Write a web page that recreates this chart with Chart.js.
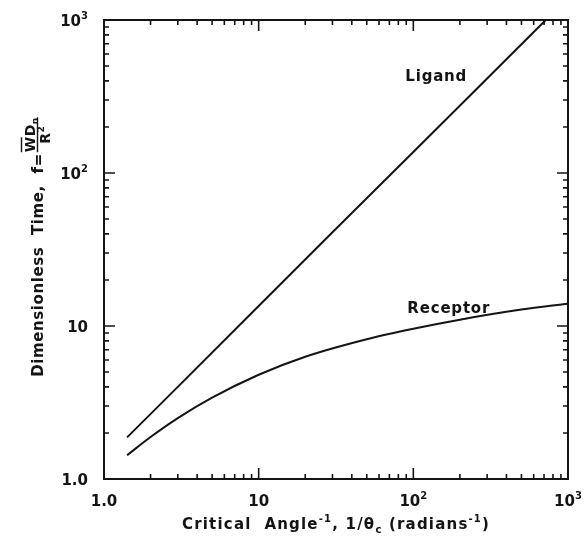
<!DOCTYPE html>
<html>
<head>
<meta charset="utf-8">
<script src="https://cdn.jsdelivr.net/npm/chart.js@4/dist/chart.umd.min.js"></script>
<style>
  body { margin: 0; background: #fff; }
  #wrap { width: 586px; height: 544px; }
</style>
</head>
<body>
<div id="wrap"><canvas id="plot" width="586" height="544"></canvas></div>
<script>
const FONT = '"DejaVu Sans", sans-serif'
const INK = '#141414'

// axis decades and their labels (base, superscript)
const decades = [1, 10, 100, 1000]
const tickLabels = [['1.0', ''], ['10', ''], ['10', '2'], ['10', '3']]

// curves
const ligandX = [1.41, 3, 10, 30, 100, 300, 718]
const ligandY = [1.87, 4.0, 13.5, 41, 137, 415, 1000]
const receptorX = [1.41, 2, 3, 5, 10, 20, 50, 100, 200, 500, 1000]
const receptorY = [1.43, 1.88, 2.5, 3.4, 4.8, 6.3, 8.2, 9.6, 11.0, 12.8, 14.0]

// curve annotations (data coords of text baseline start)
const noteText = ['Ligand', 'Receptor']
const noteX = [88.8, 91.5]
const noteY = [399, 12.2]

const toPoints = (xs, ys) => xs.map((x, i) => ({ x, y: ys[i] }))

// draws text runs with superscripts / subscripts, returns width
const drawRich = (ctx, parts, x, y, fs, align, spacing, dryRun) => {
  const runs = parts.filter(p => p[0] !== '').map(([t, k]) => ({ t, k, s: k === 'n' ? fs : Math.round(fs * 0.65) }))
  ctx.letterSpacing = spacing + 'px'
  let w = 0
  runs.forEach(r => {
    ctx.font = `bold ${r.s}px ${FONT}`
    r.w = ctx.measureText(r.t).width
    w += r.w
  })
  if (dryRun) return w
  let cx = align === 'center' ? x - w / 2 : align === 'right' ? x - w : x
  ctx.textAlign = 'left'
  ctx.textBaseline = 'alphabetic'
  runs.forEach(r => {
    ctx.font = `bold ${r.s}px ${FONT}`
    const dy = r.k === 'sup' ? -fs * 0.45 : r.k === 'sub' ? fs * 0.25 : 0
    ctx.fillText(r.t, cx, y + dy)
    cx += r.w
  })
  return w
}

const framePlugin = {
  id: 'frame',
  afterDraw(chart) {
    const { ctx, chartArea: { left, right, top, bottom }, scales: { x, y } } = chart
    ctx.save()
    ctx.strokeStyle = INK
    ctx.fillStyle = INK
    ctx.lineWidth = 2
    ctx.strokeRect(left, top, right - left, bottom - top)

    // inward ticks on all four sides
    ctx.lineWidth = 1.6
    ctx.beginPath()
    decades.slice(0, -1).forEach(d => {
      for (let m = 1; m < 10; m++) {
        const v = d * m
        if (v === 1) continue
        const len = m === 1 ? 11 : 5
        const px = x.getPixelForValue(v)
        const py = y.getPixelForValue(v)
        ctx.moveTo(px, bottom); ctx.lineTo(px, bottom - len)
        ctx.moveTo(px, top); ctx.lineTo(px, top + len)
        ctx.moveTo(left, py); ctx.lineTo(left + len, py)
        ctx.moveTo(right, py); ctx.lineTo(right - len, py)
      }
    })
    ctx.stroke()

    // tick labels
    decades.forEach((v, i) => {
      const [b, s] = tickLabels[i]
      drawRich(ctx, [[b, 'n'], [s, 'sup']], x.getPixelForValue(v), bottom + 27, 15, 'center', 0)
      drawRich(ctx, [[b, 'n'], [s, 'sup']], left - 16, y.getPixelForValue(v) + 5.5, 15, 'right', 0)
    })

    // x title
    const xt = [['Critical  Angle', 'n'], ['-1', 'sup'], [', 1/\u03B8', 'n'], ['c', 'sub'], [' (radians', 'n'], ['-1', 'sup'], [')', 'n']]
    drawRich(ctx, xt, (left + right) / 2, bottom + 50, 15, 'center', 1.2)

    // y title, rotated, with the fraction W̄Dn / R²
    const cy = (top + bottom) / 2 - 3
    ctx.save()
    ctx.translate(43, cy)
    ctx.rotate(-Math.PI / 2)
    const main = [['Dimensionless  Time,  f=', 'n']]
    const wm = drawRich(ctx, main, 0, 0, 15, 'left', 0.6, true)
    const num = [['WD', 'n'], ['n', 'sub']]
    const den = [['R', 'n'], ['2', 'sup']]
    const wn = drawRich(ctx, num, 0, 0, 14, 'left', 0.5, true)
    const total = wm + wn + 2
    const x0 = -total / 2
    drawRich(ctx, main, x0, 0, 15, 'left', 0.6)
    const fx = x0 + wm + 1
    drawRich(ctx, num, fx, -8.5, 14, 'left', 0.5)
    drawRich(ctx, den, fx + wn / 2, 7, 14, 'center', 0.5)
    ctx.lineWidth = 1.4
    ctx.beginPath()
    ctx.moveTo(fx, -5.5); ctx.lineTo(fx + wn, -5.5)
    // overbar on W
    ctx.font = `bold 14px ${FONT}`
    ctx.letterSpacing = '0.5px'
    const ww = ctx.measureText('W').width
    ctx.moveTo(fx, -21.5); ctx.lineTo(fx + ww - 1, -21.5)
    ctx.stroke()
    ctx.restore()

    // curve annotations
    noteText.forEach((t, i) => {
      drawRich(ctx, [[t, 'n']], x.getPixelForValue(noteX[i]), y.getPixelForValue(noteY[i]), 15, 'left', 0.8)
    })
    ctx.restore()
  }
}

const lineStyle = { showLine: true, borderColor: INK, borderWidth: 2, pointRadius: 0, fill: false }

new Chart('plot', {
  type: 'scatter',
  data: {
    datasets: [
      { label: 'Ligand', data: toPoints(ligandX, ligandY), ...lineStyle },
      { label: 'Receptor', data: toPoints(receptorX, receptorY), ...lineStyle, cubicInterpolationMode: 'monotone' }
    ]
  },
  options: {
    responsive: false,
    animation: false,
    layout: { padding: { left: 104, right: 18, top: 20, bottom: 65 } },
    plugins: { legend: { display: false }, tooltip: { enabled: false } },
    scales: {
      x: { type: 'logarithmic', min: 1, max: 1000, display: false },
      y: { type: 'logarithmic', min: 1, max: 1000, display: false }
    }
  },
  plugins: [framePlugin]
})
</script>
</body>
</html>
